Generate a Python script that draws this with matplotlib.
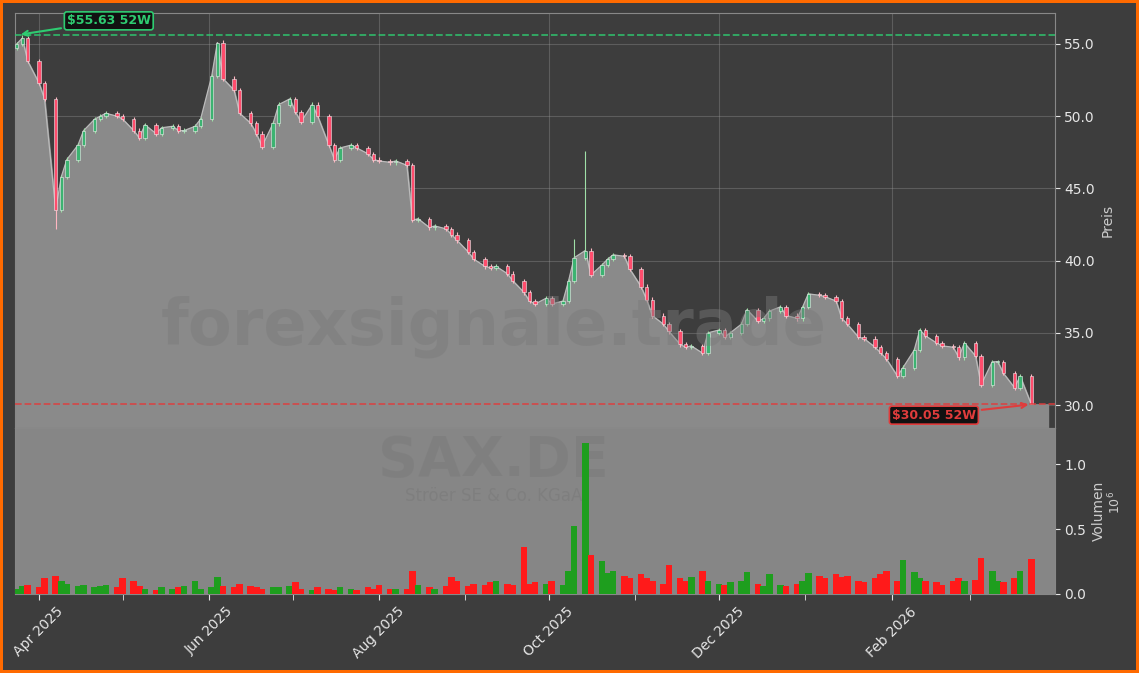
import matplotlib
matplotlib.use("Agg")
import matplotlib.pyplot as plt
import matplotlib.dates as mdates
import numpy as np
import pandas as pd

# closes, sampled every second trading day
closes = [
    55.0, 55.4, 53.8, 52.3, 51.2, 43.5, 45.8, 47.0, 48.0, 49.0,
    49.8, 50.0, 50.2, 50.0, 49.8, 49.0, 48.5, 49.4, 48.8, 49.2,
    49.3, 49.0, 49.0, 49.3, 49.8, 52.8, 55.1, 52.6, 51.8, 50.2,
    49.5, 48.8, 47.9, 49.5, 50.8, 51.2, 50.3, 49.6, 50.8, 50.0,
    48.0, 47.0, 47.8, 48.0, 47.8, 47.4, 47.0, 46.9, 46.8, 46.9,
    46.6, 42.8, 42.9, 42.3, 42.4, 42.2, 41.8, 41.4, 40.6, 40.1,
    39.6, 39.5, 39.6, 39.1, 38.6, 37.8, 37.2, 37.0, 37.4, 37.0,
    37.2, 38.6, 40.2, 40.7, 39.0, 39.7, 40.1, 40.4, 40.3, 39.4,
    38.2, 37.3, 36.2, 35.6, 35.1, 34.2, 34.0, 34.1, 33.6, 35.0,
    35.2, 34.7, 35.0, 35.6, 36.6, 35.8, 36.0, 36.5, 36.8, 36.2,
    36.0, 36.8, 37.7, 37.6, 37.5, 37.2, 36.0, 35.6, 34.7, 34.6,
    34.0, 33.6, 33.2, 32.0, 32.6, 33.8, 35.2, 34.8, 34.3, 34.1,
    34.0, 33.3, 34.3, 33.4, 31.4, 33.0, 33.0, 32.2, 31.2, 32.0,
    30.05,
]
volumes = [  # millions of shares
    .04, .06, .07, .05, .12, .14, .10, .08, .06, .07, .05,
    .06, .07, .05, .12, .10, .06, .04, .03, .05, .04,
    .05, .06, .10, .04, .05, .13, .06, .05, .08, .06,
    .05, .04, .05, .05, .06, .09, .04, .03, .05, .04,
    .03, .05, .04, .03, .05, .04, .07, .04, .04, .04,
    .18, .07, .05, .04, .06, .13, .10, .06, .08, .07,
    .09, .10, .08, .07, .36, .08, .09, .08, .10, .07,
    .18, .52, 1.16, .30, .25, .16, .18, .14, .12, .15,
    .12, .10, .08, .22, .12, .10, .13, .18, .10, .08,
    .07, .09, .10, .17, .08, .06, .15, .07, .06, .08,
    .10, .16, .14, .12, .15, .13, .14, .10, .09, .12,
    .15, .18, .10, .26, .17, .12, .10, .09, .07, .10,
    .12, .10, .11, .28, .18, .10, .09, .12, .18, .27,
]
special_high = {1: 55.63, 73: 47.6, 26: 55.1, 72: 41.5}
special_low = {5: 42.2, 130: 30.05}
high_52w = 55.63
low_52w = 30.05

dates = pd.date_range("2025-03-24", periods=len(closes), freq="2B")
x = mdates.date2num(dates)
c = np.array(closes)
o = np.concatenate([[closes[0] - 0.3], c[:-1]])
hi = np.maximum(o, c) + 0.15
lo = np.minimum(o, c) - 0.15
for k, v in special_high.items():
    hi[k] = v
for k, v in special_low.items():
    lo[k] = v
up = c >= o

BG = "#3d3d3d"
fig = plt.figure(figsize=(11.39, 6.73), dpi=100, facecolor=BG)
fig.patch.set_edgecolor("#ff6a00")
fig.patch.set_linewidth(4)
ax = fig.add_axes([0.0132, 0.364, 0.9128, 0.6168])
axv = fig.add_axes([0.0132, 0.1174, 0.9128, 0.2466], sharex=ax)

ax.set_facecolor(BG)
axv.set_facecolor("#868686")

xmin = mdates.date2num(pd.Timestamp("2025-03-23 10:00"))
xmax = xmin + 373
ax.set_xlim(xmin, xmax)
ax.set_ylim(28.41, 57.15)

# area under closes
xf = np.concatenate([xmin, x, [x[-1] + 6]], axis=None)
cf = np.concatenate([c[0], c, [c[-1]]], axis=None)
ax.fill_between(xf, cf, 28.41, color="#8a8a8a", zorder=2)
ax.plot(x, c, color="#bbbbbb", lw=0.9, zorder=3)

w = 1.2
for i in range(len(c)):
    col = "#9fe0a8" if up[i] else "#ffb6c1"
    ax.vlines(x[i], lo[i], hi[i], color=col, lw=0.8, zorder=4)
    body = abs(c[i] - o[i]) or 0.05
    ax.bar(x[i], body, bottom=min(o[i], c[i]), width=w,
           color="#3cb371" if up[i] else "#ff4d6d",
           edgecolor="#eeeeee", linewidth=0.4, zorder=5)

ax.axhline(high_52w, color="#2ecc71", ls="--", lw=1.3, alpha=0.8, zorder=6)
ax.axhline(low_52w, color="#e03c3c", ls="--", lw=1.3, alpha=0.8, zorder=6)

ax.annotate(f"${high_52w:.2f} 52W", xy=(x[1] - 1.5, high_52w),
            xytext=(mdates.date2num(pd.Timestamp("2025-04-11")), 56.6),
            color="#2ecc71", fontsize=9, fontweight="bold", va="center",
            bbox=dict(boxstyle="round,pad=0.2", fc="#111111", ec="#2ecc71", lw=1.2),
            arrowprops=dict(arrowstyle="->", color="#2ecc71", lw=1.5), zorder=8)
ax.annotate(f"${low_52w:.2f} 52W", xy=(x[-1], low_52w),
            xytext=(mdates.date2num(pd.Timestamp("2026-02-01")), 29.3),
            color="#e03c3c", fontsize=9, fontweight="bold", va="center",
            bbox=dict(boxstyle="round,pad=0.2", fc="#111111", ec="#e03c3c", lw=1.2),
            arrowprops=dict(arrowstyle="->", color="#e03c3c", lw=1.5), zorder=8)

ax.text(0.46, 0.245, "forexsignale.trade", transform=ax.transAxes, ha="center",
        va="center", fontsize=46, fontweight="bold", color="#7a7a7a", alpha=0.45, zorder=7)

# volume
vcol = np.where(up, "#1e9e1e", "#ff1a1a")
axv.bar(x, volumes, width=2.4, color=vcol, zorder=3)
axv.set_ylim(0, 1.277)
axv.text(0.46, 0.8, "SAX.DE", transform=axv.transAxes, ha="center", va="center",
         fontsize=40, fontweight="bold", color="#7a7a7a", alpha=0.5, zorder=1)
axv.text(0.46, 0.59, "Ströer SE & Co. KGaA", transform=axv.transAxes, ha="center",
         va="center", fontsize=12, color="#7a7a7a", alpha=0.6, zorder=1)

for a in (ax, axv):
    a.yaxis.tick_right()
    a.yaxis.set_label_position("right")
    a.tick_params(colors="#e6e6e6", labelsize=10)
    a.grid(True, color="#9a9a9a", alpha=0.35, lw=0.8)
    for s in a.spines.values():
        s.set_color("#888888")
ax.set_axisbelow(True)
ax.set_yticks([30, 35, 40, 45, 50, 55])
ax.yaxis.set_major_formatter(plt.FormatStrFormatter("%.1f"))
axv.set_yticks([0, 0.5, 1.0])
axv.yaxis.set_major_formatter(plt.FormatStrFormatter("%.1f"))
axv.grid(False)
ax.set_ylabel("Preis", color="#cccccc", fontsize=10)
axv.set_ylabel("Volumen", color="#cccccc", fontsize=10)
axv.text(1.058, 0.55, "$10^6$", transform=axv.transAxes, rotation=90,
         color="#cccccc", fontsize=9, ha="center", va="center")

ax.xaxis.set_major_locator(mdates.MonthLocator(bymonth=[2, 4, 6, 8, 10, 12]))
ax.xaxis.set_minor_locator(mdates.MonthLocator(bymonth=[1, 3, 5, 7, 9, 11]))
ax.xaxis.set_major_formatter(mdates.DateFormatter("%b %Y"))
plt.setp(ax.get_xticklabels(), visible=False)
ax.tick_params(axis="x", which="both", length=0)
axv.tick_params(axis="x", which="both", length=4, colors="#e6e6e6")
plt.setp(axv.get_xticklabels(), rotation=45, ha="center")

fig.savefig("out.png", dpi=100, facecolor=BG, edgecolor=fig.patch.get_edgecolor())
